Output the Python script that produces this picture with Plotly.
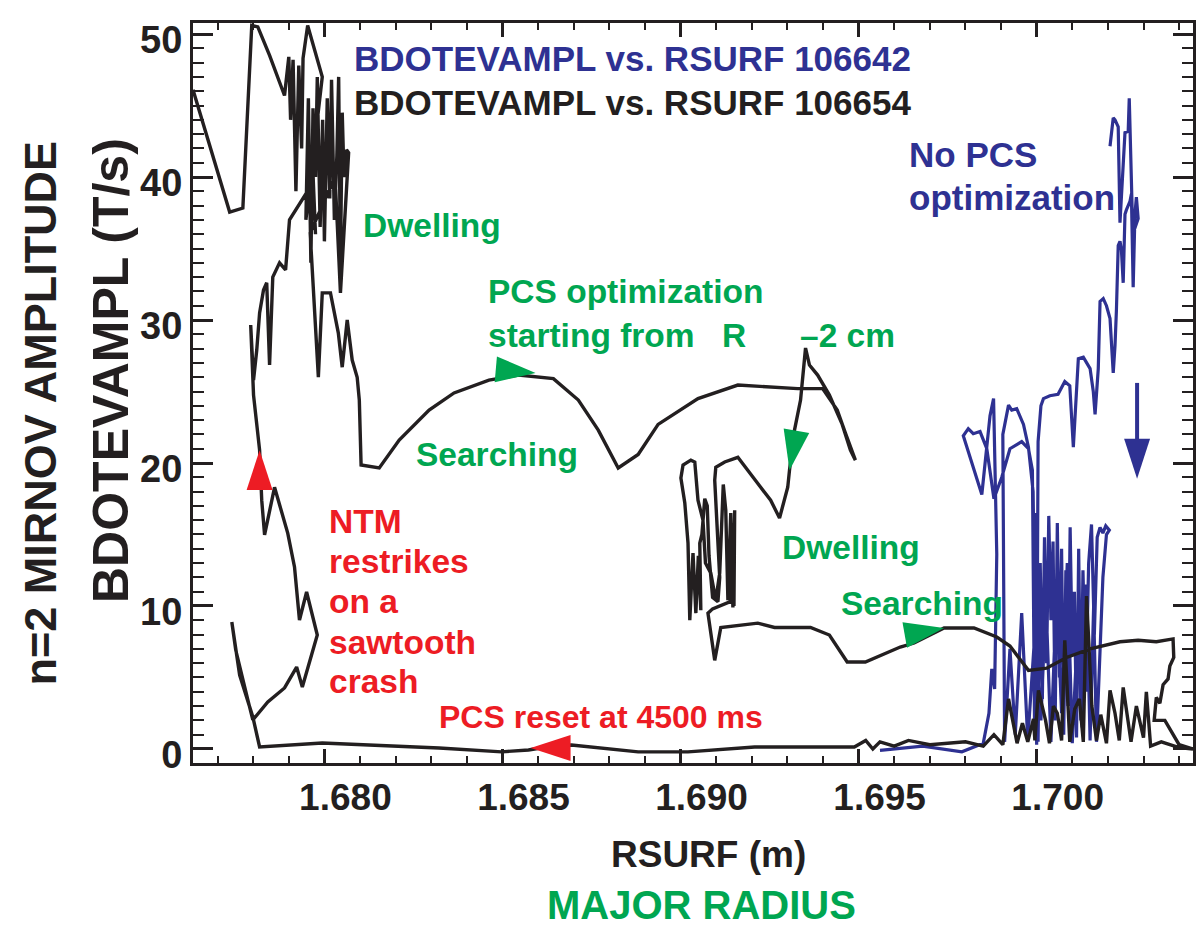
import plotly.graph_objects as go

BLACK = "#231f20"
BLUE = "#2e3192"
GREEN = "#00a651"
RED = "#ed1c24"

# ---- shot 106654 (black) : RSURF (m), BDOTEVAMPL (T/s)
black_pts = [
    (1.67631, 46.1), (1.67734, 37.55), (1.67771, 37.83), (1.67796, 50.6), (1.67813, 50.5), (1.67846, 48.5), (1.67888, 45.7),
    (1.67900, 48.4), (1.67905, 44.0), (1.67912, 48.2), (1.67920, 39.0), (1.67928, 47.8), (1.67936, 42.0), (1.67940, 48.3),
    (1.67953, 50.6), (1.67994, 47.0), (1.67948, 37.0), (1.67955, 45.5), (1.67962, 34.0), (1.67968, 44.8), (1.67975, 40.0),
    (1.67980, 47.0), (1.67988, 36.5), (1.67995, 44.0), (1.68000, 35.5), (1.68008, 45.5), (1.68015, 38.5), (1.68020, 46.8),
    (1.68028, 37.0), (1.68035, 41.5), (1.68040, 47.0), (1.68045, 34.0), (1.68050, 44.5), (1.68055, 40.0), (1.68062, 41.9),
    (1.68068, 41.7),
    (1.68045, 31.9), (1.68030, 40.0), (1.67960, 36.1), (1.67983, 26.0), (1.67994, 31.9), (1.68017, 31.9), (1.68039, 29.1),
    (1.68050, 26.7), (1.68064, 30.0), (1.68078, 27.2), (1.68092, 26.0), (1.68098, 24.4), (1.68103, 19.86), (1.68154, 19.65),
    (1.68210, 21.6), (1.68294, 23.7), (1.68364, 24.9), (1.68462, 25.8), (1.68545, 26.15), (1.68643, 25.9), (1.68713, 24.4),
    (1.68769, 22.3), (1.68825, 19.65), (1.68881, 20.6), (1.68937, 22.7), (1.69049, 24.5), (1.69161, 25.45), (1.69245, 25.3),
    (1.69329, 25.2), (1.69399, 25.2), (1.69440, 23.7), (1.69463, 22.1), (1.69491, 20.2), (1.69477, 20.9), (1.69454, 22.7),
    (1.69418, 24.75), (1.69385, 26.15), (1.69362, 26.85), (1.69351, 28.04), (1.69337, 24.4), (1.69320, 22.3), (1.69306, 19.5),
    (1.69301, 18.3), (1.69278, 16.15), (1.69253, 17.4), (1.69225, 18.3), (1.69161, 20.4), (1.69124, 20.07), (1.69099, 19.7),
    (1.69096, 18.8),
    (1.69110, 12.0), (1.69105, 10.3), (1.69090, 10.6), (1.69080, 13.5), (1.69075, 17.0), (1.69068, 17.5), (1.69060, 15.0),
    (1.69054, 14.4), (1.69057, 9.7), (1.69050, 13.5), (1.69043, 9.5), (1.69035, 13.7), (1.69026, 9.0), (1.69021, 14.4),
    (1.69012, 17.2), (1.69001, 18.95), (1.69007, 19.86), (1.69029, 20.2), (1.69040, 20.07), (1.69049, 17.4), (1.69063, 16.0),
    (1.69070, 13.0), (1.69085, 12.3), (1.69099, 10.4), (1.69110, 12.3), (1.69120, 18.5), (1.69127, 16.7), (1.69133, 10.4),
    (1.69141, 16.5), (1.69147, 9.9), (1.69152, 16.7), (1.69150, 10.0), (1.69144, 15.8), (1.69140, 10.3), (1.69090, 9.8),
    (1.69077, 9.5), (1.69096, 6.2), (1.69113, 8.5),
    (1.69217, 8.8), (1.69264, 8.5), (1.69365, 8.5), (1.69418, 7.97), (1.69468, 6.08), (1.69519, 6.08), (1.69617, 7.13),
    (1.69656, 7.41), (1.69740, 8.46), (1.69824, 8.46), (1.69888, 7.83), (1.69925, 7.2), (1.69977, 5.5), (1.70028, 5.65),
    (1.70084, 6.4), (1.70150, 7.0), (1.70234, 7.5), (1.70285, 7.6), (1.70336, 7.5), (1.70383, 7.7),
    (1.70385, 6.4), (1.70374, 5.8), (1.70369, 4.9), (1.70355, 4.5), (1.70346, 3.2), (1.70336, 3.6), (1.70330, 2.0),
    (1.70360, 2.0), (1.70400, 0.3), (1.70439, 0.0), (1.70400, 0.1), (1.70350, 0.5), (1.70320, 0.2), (1.70308, 4.0),
    (1.70300, 0.8), (1.70280, 3.0), (1.70265, 0.5), (1.70243, 4.3), (1.70232, 0.6), (1.70220, 2.5), (1.70206, 4.1),
    (1.70196, 0.4), (1.70180, 2.4), (1.70168, 0.6), (1.70155, 3.0), (1.70140, 10.7), (1.70131, 0.5), (1.70120, 3.5),
    (1.70107, 2.8), (1.70093, 0.5), (1.70079, 7.6), (1.70070, 0.6), (1.70058, 2.5), (1.70047, 3.0), (1.70036, 0.4),
    (1.70025, 2.0), (1.70005, 4.1), (1.69995, 0.6), (1.69991, 2.1), (1.69975, 0.5), (1.69960, 1.8), (1.69945, 0.4),
    (1.69921, 3.5), (1.69905, 0.3), (1.69880, 1.0), (1.69850, 0.2), (1.69800, 0.5), (1.69700, 0.3), (1.69640, 0.6),
    (1.69600, 0.2), (1.69560, 0.5), (1.69540, 0.0), (1.69520, 0.6), (1.69488, 0.14), (1.69208, 0.14), (1.69021, -0.2),
    (1.68881, -0.2), (1.68694, 0.28), (1.68624, 0.14), (1.68573, -0.07), (1.68498, -0.2), (1.68322, 0.07), (1.67994, 0.42),
    (1.67818, 0.14),
    (1.67799, 2.24), (1.67762, 5.17), (1.67740, 8.88), (1.67751, 6.92), (1.67785, 3.43), (1.67799, 2.03), (1.67841, 3.29),
    (1.67888, 4.27), (1.67922, 5.73), (1.67938, 4.34), (1.67980, 7.97), (1.67950, 10.98), (1.67930, 9.02), (1.67916, 12.73),
    (1.67897, 15.1), (1.67860, 18.3), (1.67832, 14.97), (1.67824, 17.4), (1.67818, 20.9), (1.67813, 22.1), (1.67801, 24.75),
    (1.67793, 29.65), (1.67801, 25.8), (1.67810, 27.9), (1.67818, 30.5), (1.67829, 32.1), (1.67838, 32.6), (1.67846, 26.85),
    (1.67855, 33.0), (1.67874, 34.0), (1.67891, 33.5), (1.67902, 37.0), (1.67950, 38.9), (1.67965, 42.0), (1.67975, 36.0),
]
black_x = [p[0] for p in black_pts]
black_y = [p[1] for p in black_pts]

# ---- shot 106642 (blue)
blue_pts = [
    (1.69560, -0.1), (1.69680, 0.2), (1.69790, -0.2), (1.69850, 0.4), (1.69866, 2.5), (1.69874, 5.6), (1.69882, 4.2),
    (1.69888, 13.6), (1.69879, 24.5), (1.69869, 23.3), (1.69846, 17.8), (1.69794, 21.9), (1.69808, 22.4), (1.69822, 22.05),
    (1.69841, 22.2), (1.69860, 21.0), (1.69880, 17.5), (1.69902, 19.0), (1.69925, 21.0), (1.69958, 21.5), (1.69977, 21.0),
    (1.69988, 19.5),
    (1.69994, 2.0), (1.69998, 16.5), (1.70004, 0.5), (1.70010, 13.0), (1.70016, 3.5), (1.70022, 14.8), (1.70028, 6.0),
    (1.70034, 16.3), (1.70040, 9.0), (1.70046, 14.5), (1.70052, 2.0), (1.70058, 15.8), (1.70064, 5.0), (1.70070, 14.0),
    (1.70076, 1.0), (1.70082, 12.5), (1.70088, 3.0), (1.70094, 15.5), (1.70100, 6.5), (1.70106, 11.0), (1.70112, 0.8),
    (1.70118, 14.0), (1.70124, 2.0), (1.70130, 12.5), (1.70138, 4.0), (1.70146, 13.0), (1.70154, 15.7), (1.70162, 8.0),
    (1.70170, 14.8), (1.70178, 15.5), (1.70186, 15.1), (1.70194, 15.6), (1.70204, 15.3), (1.70196, 15.0), (1.70186, 12.0),
    (1.70176, 6.0), (1.70168, 0.5), (1.70160, 10.0), (1.70150, 0.6), (1.70140, 11.5), (1.70128, 1.5), (1.70116, 9.0),
    (1.70100, 0.4), (1.70086, 13.0), (1.70070, 2.5), (1.70056, 11.0), (1.70040, 0.5), (1.70026, 10.5), (1.70012, 2.0),
    (1.69996, 8.5), (1.69975, 0.6), (1.69958, 9.5), (1.69940, 1.0), (1.69925, 7.0), (1.69910, 0.5),
    (1.69905, 22.0), (1.69921, 24.05), (1.69930, 23.7), (1.69944, 23.8), (1.69963, 22.7), (1.69977, 21.1), (1.69990, 18.0),
    (1.69996, 5.0), (1.70000, 0.3), (1.70004, 21.5), (1.70012, 24.0), (1.70019, 24.5), (1.70037, 24.7), (1.70060, 24.8),
    (1.70079, 25.7), (1.70093, 25.4), (1.70103, 21.1),
    (1.70117, 27.3), (1.70131, 27.4), (1.70150, 26.6), (1.70159, 25.0), (1.70164, 23.4), (1.70173, 26.6), (1.70178, 31.3),
    (1.70187, 31.5), (1.70196, 31.0), (1.70206, 30.1), (1.70215, 26.3), (1.70220, 28.2), (1.70224, 30.7), (1.70229, 35.2),
    (1.70234, 35.5), (1.70238, 34.9), (1.70243, 32.6), (1.70248, 37.4), (1.70252, 37.7), (1.70262, 38.3), (1.70266, 38.8),
    (1.70271, 32.3), (1.70276, 37.4), (1.70280, 38.6), (1.70285, 37.1), (1.70270, 36.0), (1.70260, 45.5), (1.70257, 43.2),
    (1.70248, 43.1), (1.70240, 40.0), (1.70234, 36.8), (1.70229, 43.5), (1.70220, 44.0), (1.70215, 44.14), (1.70206, 42.15),
]
blue_x = [p[0] for p in blue_pts]
blue_y = [p[1] for p in blue_pts]

# blue "no optimization" arrow shaft
shaft_x = [1.70282, 1.70282]
shaft_y = [25.6, 20.0]

# arrowheads (tip positions), direction (deg, clockwise from up), colour
arrow_x = [1.68593, 1.69306, 1.69740, 1.67818, 1.68579, 1.70282]
arrow_y = [26.3, 19.5, 8.46, 20.9, 0.07, 18.9]
arrow_angle = [95, 190, 80, 0, 270, 180]
arrow_color = [GREEN, GREEN, GREEN, RED, RED, BLUE]

x_ticks = [1.680, 1.685, 1.690, 1.695, 1.700]
x_ticktext = ["1.680", "1.685", "1.690", "1.695", "1.700"]
y_ticks = [0, 10, 20, 30, 40, 50]

FONT = "Liberation Sans, Arial, sans-serif"

fig = go.Figure()
fig.add_trace(go.Scatter(x=blue_x, y=blue_y, mode="lines", line=dict(color=BLUE, width=3.2), hoverinfo="skip"))
fig.add_trace(go.Scatter(x=black_x, y=black_y, mode="lines", line=dict(color=BLACK, width=3.4), hoverinfo="skip"))
fig.add_trace(go.Scatter(x=shaft_x, y=shaft_y, mode="lines", line=dict(color=BLUE, width=4), hoverinfo="skip"))
fig.add_trace(go.Scatter(x=arrow_x, y=arrow_y, mode="markers",
                         marker=dict(symbol="arrow", size=42, angle=arrow_angle, color=arrow_color,
                                     line=dict(width=0)), hoverinfo="skip"))

ann = []
def txt(x, y, s, color, size=33.5, ref="data", xanchor="left", angle=0):
    d = dict(x=x, y=y, text="<b>%s</b>" % s, showarrow=False, xanchor=xanchor, yanchor="middle",
             font=dict(family=FONT, size=size, color=color), textangle=angle)
    if ref == "paper":
        d.update(xref="paper", yref="paper")
    else:
        d.update(xref="x", yref="y")
    ann.append(d)

txt(1.68078, 48.3, "BDOTEVAMPL vs. RSURF 106642", BLUE, size=35)
txt(1.68078, 45.24, "BDOTEVAMPL vs. RSURF 106654", BLACK, size=35)
txt(1.68103, 36.64, "Dwelling", GREEN)
txt(1.68453, 31.96, "PCS optimization", GREEN)
txt(1.68453, 28.95, "starting from", GREEN)
txt(1.69110, 28.95, "R", GREEN)
txt(1.69329, 28.95, "\u20132 cm", GREEN)
txt(1.68252, 20.56, "Searching", GREEN)
txt(1.69636, 41.54, "No PCS", BLUE, size=35)
txt(1.69636, 38.6, "optimization", BLUE, size=35)
for yy, s in zip([15.94, 13.08, 10.28, 7.48, 4.69], ["NTM", "restrikes", "on a", "sawtooth", "crash"]):
    txt(1.68006, yy, s, RED)
txt(1.69278, 14.06, "Dwelling", GREEN)
txt(1.69446, 10.14, "Searching", GREEN)
txt(1.68316, 2.24, "PCS reset at 4500 ms", RED, size=32)

txt(0.5155, -0.1243, "RSURF (m)", BLACK, size=37, ref="paper", xanchor="center")
txt(0.5085, -0.192, "MAJOR RADIUS", GREEN, size=40, ref="paper", xanchor="center")
txt(-0.0818, 0.53, "BDOTEVAMPL (T/s)", BLACK, size=50, ref="paper", xanchor="center", angle=-90)
txt(-0.1525, 0.473, "n=2 MIRNOV AMPLITUDE", BLACK, size=45, ref="paper", xanchor="center", angle=-90)

fig.update_layout(
    width=1199, height=930,
    margin=dict(l=193, r=3, t=23, b=167),
    plot_bgcolor="white", paper_bgcolor="white",
    showlegend=False,
    annotations=ann,
    font=dict(family=FONT, color=BLACK),
)
fig.update_xaxes(
    range=[1.67631, 1.70439], tickvals=x_ticks, ticktext=x_ticktext,
    ticks="inside", ticklen=14, tickwidth=3, tickcolor=BLACK,
    showline=True, linewidth=3, linecolor=BLACK, mirror="ticks",
    showgrid=False, zeroline=False,
    tickfont=dict(family=FONT, size=37, color=BLACK, weight="bold"),
    ticklabelshift=21, ticklabelstandoff=0,
    minor=dict(dtick=0.001, tick0=1.680, ticks="inside", ticklen=7, tickwidth=2, tickcolor=BLACK, showgrid=False),
)
fig.update_yaxes(
    range=[-0.98, 50.77], tickvals=y_ticks,
    ticks="inside", ticklen=20, tickwidth=3, tickcolor=BLACK,
    showline=True, linewidth=3, linecolor=BLACK, mirror="ticks",
    showgrid=False, zeroline=False,
    tickfont=dict(family=FONT, size=38, color=BLACK, weight="bold"),
    ticklabelshift=6, ticklabelstandoff=0,
    minor=dict(dtick=1, tick0=0, ticks="inside", ticklen=11, tickwidth=2, tickcolor=BLACK, showgrid=False),
)
fig.write_html("out.html")
